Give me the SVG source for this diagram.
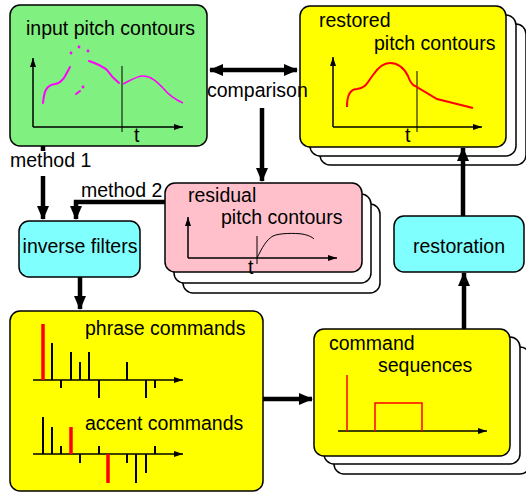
<svg xmlns="http://www.w3.org/2000/svg" width="526" height="492" viewBox="0 0 526 492">
<defs>
<marker id="ah" markerUnits="userSpaceOnUse" markerWidth="14" markerHeight="14" viewBox="0 0 14 14" refX="13" refY="7" orient="auto-start-reverse"><path d="M0,1 L14,7 L0,13 Z" fill="#000"/></marker>
<marker id="sa" markerUnits="userSpaceOnUse" markerWidth="9" markerHeight="8" viewBox="0 0 9 8" refX="9" refY="4" orient="auto"><path d="M0,1 L9,4 L0,7 Z" fill="#000"/></marker>
</defs>
<style>
text{font-family:"Liberation Sans",Arial,sans-serif;font-size:19.5px;fill:#000}
.box{stroke:#000;stroke-width:1.5}
.sh{fill:#fff;stroke:#000;stroke-width:1.5}
.ax{fill:none;stroke:#000;stroke-width:1.5;marker-end:url(#sa)}
.vl{stroke:#000;stroke-width:1}
.cn{fill:none;stroke:#000;stroke-width:4.5}
.bar{stroke:#000;stroke-width:2}
.rbar{stroke:#f00;stroke-width:3.5}
</style>
<rect width="526" height="492" fill="#fff"/>

<g id="input">
<rect class="box" x="10" y="5" width="197" height="141" rx="10" fill="#80f080"/>
<text x="26" y="35">input pitch contours</text>
<path class="ax" d="M33,127 V58"/>
<path class="ax" d="M33,127 H183"/>
<line class="vl" x1="122" y1="66" x2="122" y2="132"/>
<text x="134" y="142">t</text>
<g fill="none" stroke="#f0f" stroke-width="2" stroke-linecap="round">
<path d="M43,103 C44,92 46,85 55,84 C63,83 66,74 70,67"/>
<path d="M89,61 C98,64 102,66 107,70 C111,76 114,79 119,83"/>
<path d="M76,94 L80,91"/>
</g>
<path d="M123,84 C131,80 137,76 143,76 C152,76 158,83 163,88 C167,93 174,99 183,103" fill="none" stroke="#f0f" stroke-width="1.5"/>
<g fill="#f0f"><circle cx="71" cy="53" r="1.4"/><circle cx="79" cy="47" r="1.4"/><circle cx="88" cy="51" r="1.4"/><circle cx="83" cy="87" r="1.4"/></g>
</g>

<g id="restored">
<rect class="sh" x="320" y="24" width="206" height="141" rx="10"/>
<rect class="sh" x="310" y="15" width="206" height="141" rx="10"/>
<rect class="box" x="300" y="6" width="206" height="141" rx="10" fill="#ffff00"/>
<text x="319" y="27">restored</text>
<text x="374" y="50">pitch contours</text>
<path class="ax" d="M333,127 V57"/>
<path class="ax" d="M333,127 H482"/>
<line class="vl" x1="417" y1="71" x2="417" y2="132"/>
<text x="405" y="142">t</text>
<path d="M347,107 C347,96 350,89 357,89 C366,88 367,83 373,75 C379,66 384,63 390,63 C400,63 405,70 408,76 C410,82 412,85 415,86 L437,99 L473,108" fill="none" stroke="#f00" stroke-width="2"/>
</g>

<g id="residual">
<rect class="sh" x="183" y="204" width="197" height="89" rx="10"/>
<rect class="sh" x="174" y="194" width="197" height="89" rx="10"/>
<rect class="box" x="165" y="183" width="197" height="89" rx="10" fill="#ffc0cb"/>
<text x="188" y="202">residual</text>
<text x="221" y="224">pitch contours</text>
<path class="ax" d="M188,258 V217"/>
<path class="ax" d="M188,258 H337"/>
<line class="vl" x1="257" y1="236" x2="257" y2="264"/>
<text x="248" y="274">t</text>
<path d="M257,258 C262,248 266,240 273,236 C279,233 295,233 302,234 C308,235 312,237 314,239" fill="none" stroke="#000" stroke-width="1"/>
</g>

<g id="inverse">
<rect class="box" x="19" y="221" width="121" height="56" rx="10" fill="#80ffff"/>
<text x="80" y="253" text-anchor="middle">inverse filters</text>
</g>

<g id="restoration">
<rect class="box" x="394" y="216" width="130" height="56" rx="10" fill="#80ffff"/>
<text x="459" y="253" text-anchor="middle">restoration</text>
</g>

<g id="commands">
<rect class="box" x="10" y="311" width="253" height="180" rx="10" fill="#ffff00"/>
<text x="85" y="335">phrase commands</text>
<text x="85" y="430">accent commands</text>
<path class="ax" d="M33,380 H183"/>
<path class="bar" d="M52,380V343 M71,380V352 M80,380V362 M89,380V352 M127,380V362 M61,380V388 M99,380V398 M146,380V398 M155,380V388"/>
<line class="rbar" x1="43" y1="324" x2="43" y2="380"/>
<path class="ax" d="M33,454 H183"/>
<path class="bar" d="M43,454V417 M52,454V427 M61,454V446 M99,454V446 M155,454V446 M80,454V463 M127,454V463 M136,454V483 M146,454V473"/>
<line class="rbar" x1="71" y1="427" x2="71" y2="454"/>
<line class="rbar" x1="108" y1="454" x2="108" y2="483"/>
</g>

<g id="sequences">
<rect class="sh" x="334" y="347" width="196" height="127" rx="10"/>
<rect class="sh" x="324" y="337" width="196" height="127" rx="10"/>
<rect class="box" x="314" y="329" width="196" height="127" rx="10" fill="#ffff00"/>
<text x="329" y="350">command</text>
<text x="378" y="372">sequences</text>
<path class="ax" d="M338,431 H487"/>
<path d="M347,375 V431 M375,431 V403 H422 V431" fill="none" stroke="#f00" stroke-width="1.5"/>
</g>

<g id="connectors">
<line class="cn" x1="210" y1="70" x2="297" y2="70" marker-start="url(#ah)" marker-end="url(#ah)"/>
<text x="207" y="97">comparison</text>
<line class="cn" x1="262" y1="108" x2="262" y2="181" marker-end="url(#ah)"/>
<path class="cn" d="M43,146 V151"/>
<text x="10" y="167">method 1</text>
<line class="cn" x1="43" y1="176" x2="43" y2="219" marker-end="url(#ah)"/>
<path class="cn" d="M165,202 H76 V219" marker-end="url(#ah)"/>
<text x="81" y="197">method 2</text>
<line class="cn" x1="80" y1="277" x2="80" y2="309" marker-end="url(#ah)"/>
<line class="cn" x1="263" y1="399" x2="312" y2="399" marker-end="url(#ah)"/>
<line class="cn" x1="464" y1="329" x2="464" y2="273" marker-end="url(#ah)"/>
<line class="cn" x1="463" y1="216" x2="463" y2="148" marker-end="url(#ah)"/>
</g>
</svg>
